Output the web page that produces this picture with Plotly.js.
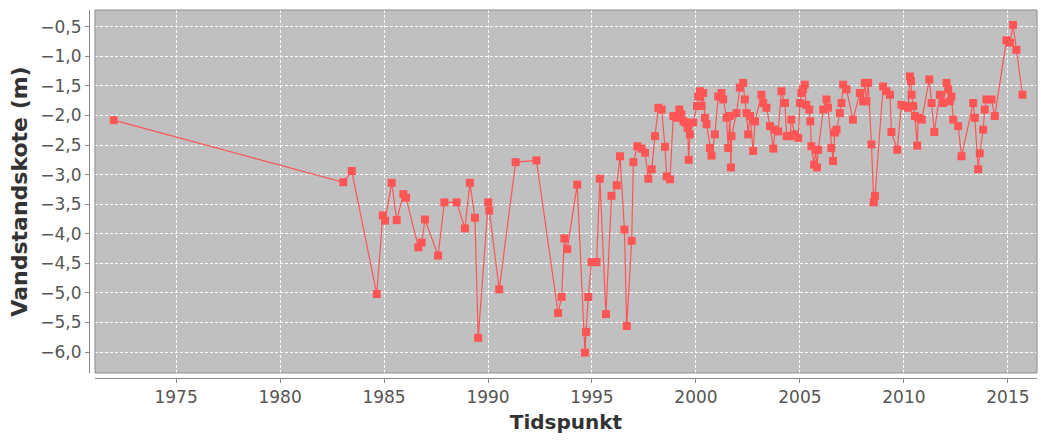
<!DOCTYPE html>
<html>
<head>
<meta charset="utf-8">
<script src="https://cdn.plot.ly/plotly-3.0.1.min.js"></script>
<style>html,body{margin:0;padding:0;background:#fff;}#chart{width:1041px;height:441px;}</style>
</head>
<body>
<div id="chart"></div>
<script>
// Sample time (decimal year)
var tidspunkt = [
  1972.0, 1983.04, 1983.45, 1984.65, 1984.94, 1985.05, 1985.37, 1985.61, 1985.93, 1986.06,
  1986.65, 1986.81, 1986.97, 1987.6, 1987.9, 1988.49, 1988.89, 1989.13, 1989.37, 1989.53,
  1990.01, 1990.06, 1990.54, 1991.33, 1992.33, 1993.37, 1993.54, 1993.67, 1993.81, 1994.29,
  1994.66, 1994.71, 1994.82, 1994.98, 1995.22, 1995.38, 1995.67, 1995.94, 1996.19, 1996.35,
  1996.56, 1996.67, 1996.91, 1996.99, 1997.18, 1997.39, 1997.55, 1997.71, 1997.87, 1998.03,
  1998.19, 1998.35, 1998.51, 1998.59, 1998.75, 1998.91, 1999.07, 1999.2, 1999.3, 1999.4,
  1999.5, 1999.6, 1999.65, 1999.71, 1999.87, 2000.05, 2000.11, 2000.19, 2000.27, 2000.35,
  2000.43, 2000.51, 2000.67, 2000.75, 2000.91, 2001.07, 2001.23, 2001.31, 2001.47, 2001.55,
  2001.63, 2001.68, 2001.71, 2001.95, 2002.11, 2002.27, 2002.35, 2002.43, 2002.51, 2002.6,
  2002.75, 2002.84, 2003.15, 2003.23, 2003.39, 2003.56, 2003.72, 2003.8, 2003.95, 2004.11,
  2004.28, 2004.36, 2004.52, 2004.59, 2004.76, 2004.92, 2005.0, 2005.07, 2005.15, 2005.23,
  2005.3, 2005.45, 2005.5, 2005.55, 2005.68, 2005.75, 2005.82, 2005.88, 2006.12, 2006.28,
  2006.35, 2006.51, 2006.59, 2006.68, 2006.76, 2006.92, 2007.0, 2007.08, 2007.24, 2007.55,
  2007.88, 2008.04, 2008.12, 2008.2, 2008.28, 2008.44, 2008.55, 2008.61, 2009.0, 2009.16,
  2009.33, 2009.4, 2009.68, 2009.88, 2010.05, 2010.2, 2010.29, 2010.34, 2010.37, 2010.45,
  2010.53, 2010.64, 2010.69, 2010.86, 2011.22, 2011.33, 2011.46, 2011.73, 2011.89, 2012.05,
  2012.13, 2012.21, 2012.29, 2012.37, 2012.61, 2012.77, 2013.33, 2013.41, 2013.57, 2013.65,
  2013.81, 2013.89, 2013.97, 2014.21, 2014.37, 2014.93, 2015.1, 2015.25, 2015.41, 2015.7
];
// Water level (m)
var vandstandskote = [
  -2.08, -3.13, -2.94, -5.02, -3.69, -3.78, -3.14, -3.77, -3.33, -3.39,
  -4.23, -4.15, -3.76, -4.37, -3.47, -3.47, -3.91, -3.14, -3.73, -5.76,
  -3.47, -3.61, -4.94, -2.79, -2.76, -5.34, -5.07, -4.08, -4.26, -3.17,
  -6.01, -5.66, -5.07, -4.48, -4.48, -3.07, -5.36, -3.36, -3.18, -2.69,
  -3.93, -5.56, -4.12, -2.79, -2.52, -2.56, -2.63, -3.07, -2.91, -2.35,
  -1.87, -1.90, -2.53, -3.03, -3.08, -2.01, -2.04, -1.90, -1.98, -2.10,
  -2.12, -2.21, -2.75, -2.32, -2.12, -1.84, -1.68, -1.59, -1.84, -1.62,
  -2.04, -2.15, -2.55, -2.68, -2.32, -1.68, -1.62, -1.73, -2.04, -2.55,
  -2.01, -2.88, -2.35, -1.96, -1.53, -1.45, -1.73, -1.96, -2.32, -2.01,
  -2.60, -2.10, -1.65, -1.79, -1.87, -2.18, -2.56, -2.24, -2.27, -1.59,
  -1.79, -2.35, -2.35, -2.07, -2.32, -2.38, -1.79, -1.62, -1.56, -1.48,
  -1.82, -1.90, -2.10, -2.52, -2.83, -2.58, -2.88, -2.58, -1.90, -1.73,
  -1.87, -2.55, -2.77, -2.29, -2.24, -1.96, -1.79, -1.48, -1.56, -2.07,
  -1.62, -1.76, -1.45, -1.76, -1.45, -2.49, -3.47, -3.36, -1.51, -1.59,
  -1.65, -2.28, -2.58, -1.82, -1.84, -1.87, -1.34, -1.42, -1.65, -1.84,
  -2.01, -2.51, -2.04, -2.07, -1.39, -1.79, -2.28, -1.65, -1.79, -1.45,
  -1.56, -1.76, -1.68, -2.07, -2.18, -2.69, -1.79, -2.04, -2.91, -2.64,
  -2.24, -1.90, -1.73, -1.73, -2.01, -0.73, -0.77, -0.47, -0.89, -1.65
];
var xTicks = [1975, 1980, 1985, 1990, 1995, 2000, 2005, 2010, 2015];
var yTicks = [-0.5, -1.0, -1.5, -2.0, -2.5, -3.0, -3.5, -4.0, -4.5, -5.0, -5.5, -6.0];

var trace = {
  x: tidspunkt,
  y: vandstandskote,
  type: 'scatter',
  mode: 'lines+markers',
  line: {color: '#ff5555', width: 1.2},
  marker: {symbol: 'square', size: 8, color: '#ff5555'},
  hoverinfo: 'x+y'
};

var tickFont = {family: 'DejaVu Sans, sans-serif', size: 17, color: '#555555'};
var titleFont = {family: 'DejaVu Sans, sans-serif', size: 20, color: '#333333', weight: 'bold'};

var layout = {
  width: 1041,
  height: 441,
  margin: {l: 89, r: 4, t: 10, b: 63},
  paper_bgcolor: '#ffffff',
  plot_bgcolor: '#c0c0c0',
  separators: ', ',
  showlegend: false,
  xaxis: {
    domain: [0.0063, 1],
    anchor: 'free',
    position: 0,
    range: [1971.1, 2016.4],
    tickmode: 'array',
    tickvals: xTicks,
    ticktext: xTicks.map(String),
    ticks: 'outside',
    ticklen: 4,
    tickcolor: '#888888',
    showline: true,
    linecolor: '#888888',
    linewidth: 1,
    showgrid: true,
    gridcolor: '#ffffff',
    griddash: '3px,2px',
    gridwidth: 1,
    zeroline: false,
    tickfont: tickFont,
    title: {text: 'Tidspunkt', font: titleFont, standoff: 8}
  },
  yaxis: {
    domain: [0.0136, 1],
    anchor: 'free',
    position: 0,
    range: [-6.355, -0.217],
    tickmode: 'array',
    tickvals: yTicks,
    tickformat: '.1f',
    ticks: 'outside',
    ticklen: 4,
    tickcolor: '#888888',
    showline: true,
    linecolor: '#888888',
    linewidth: 1,
    showgrid: true,
    gridcolor: '#ffffff',
    griddash: '3px,2px',
    gridwidth: 1,
    zeroline: false,
    tickfont: tickFont,
    title: {text: 'Vandstandskote (m)', font: {family: 'DejaVu Sans, sans-serif', size: 22, color: '#333333', weight: 'bold'}, standoff: 5}
  },
  shapes: [{
    type: 'rect', xref: 'x domain', yref: 'y domain',
    x0: 0, x1: 1, y0: 0, y1: 1,
    line: {color: '#8c8c8c', width: 1},
    fillcolor: 'rgba(0,0,0,0)',
    layer: 'above'
  }]
};

Plotly.newPlot('chart', [trace], layout, {displayModeBar: false, staticPlot: true});
</script>
</body>
</html>
